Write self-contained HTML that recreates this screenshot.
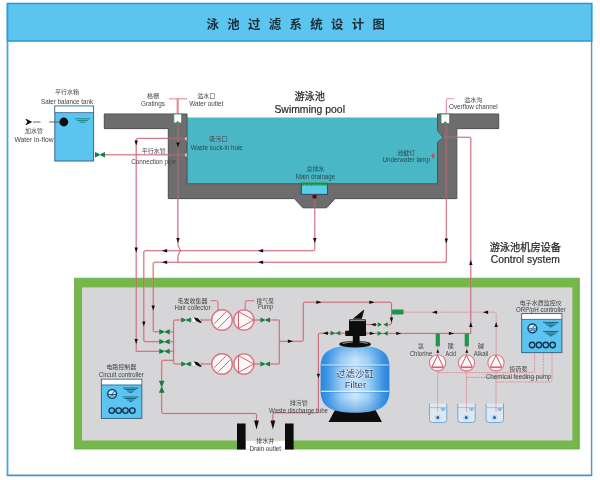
<!DOCTYPE html>
<html lang="zh-CN"><head><meta charset="utf-8"><title>泳池过滤系统设计图</title>
<style>html,body{margin:0;padding:0;background:#fefefe;}body{width:600px;height:480px;overflow:hidden;}svg{display:block;font-family:"Liberation Sans", "Noto Sans CJK SC", sans-serif;}</style></head><body>
<svg width="600" height="480" viewBox="0 0 600 480">
<defs>
<linearGradient id="tank" x1="0" y1="0" x2="1" y2="0"><stop offset="0" stop-color="#2a84de"/><stop offset="0.1" stop-color="#3f98e6"/><stop offset="0.3" stop-color="#9fd0f6"/><stop offset="0.5" stop-color="#d2eafb"/><stop offset="0.7" stop-color="#a2d2f6"/><stop offset="0.9" stop-color="#3f96e4"/><stop offset="1" stop-color="#2a80d8"/></linearGradient>
<linearGradient id="tankv" x1="0" y1="0" x2="0" y2="1"><stop offset="0" stop-color="#2f8ae0" stop-opacity="0.5"/><stop offset="0.2" stop-color="#2f8ae0" stop-opacity="0.06"/><stop offset="0.78" stop-color="#2f8ae0" stop-opacity="0.04"/><stop offset="1" stop-color="#2a80d8" stop-opacity="0.55"/></linearGradient>
<filter id="soft" x="-5%" y="-5%" width="110%" height="110%"><feGaussianBlur stdDeviation="0.32"/></filter>
<filter id="tb" x="-10%" y="-30%" width="120%" height="160%"><feGaussianBlur stdDeviation="0.42"/></filter>
</defs>
<rect width="600" height="480" fill="#fefefe"/>
<g filter="url(#soft)">
<rect x="7.5" y="3.5" width="584.2" height="471.9" fill="#fff"/>
<path d="M7.5 3.5 V475.4" stroke="#45a6dc" stroke-width="1.8" fill="none"/>
<path d="M6.8 475.3 H592.2" stroke="#4a93c2" stroke-width="1.7" fill="none"/>
<path d="M591.6 3.5 V475.4" stroke="#5893c0" stroke-width="1.4" fill="none"/>
<rect x="7.5" y="3.5" width="584.2" height="37.5" fill="#5cc5ef" stroke="#2f9bd8" stroke-width="1.6"/>
<text x="206.5" y="29.3" font-size="12.4" font-weight="bold" fill="#1d2b36" letter-spacing="8.35">泳池过滤系统设计图</text>
<rect x="74.4" y="278.2" width="504.9" height="170.8" fill="#76b74c" stroke="#68aa46" stroke-width="0.8"/>
<rect x="82" y="287.4" width="490.4" height="153.1" fill="#d6d6d8"/>
<path d="M104.3 114 H187 V183.8 H437.5 V142.5 L443.2 137.5 L437.5 130.5 V114 H498.7 V128.6 H456.8 V198.6 H335 L326.6 207.8 H303 L294.4 198.6 H168.3 V128.6 H104.3 Z" fill="#6d6d6d"/>
<path d="M187 117.5 H437.5 V130.5 L443.2 137.5 L437.5 142.5 V183.8 H187 Z" fill="#4ab7c5"/>
<path d="M104.3 114 H187 V183.8 H437.5 V142.5 L443.2 137.5 L437.5 130.5 V114 H498.7 V128.6 H456.8 V198.6 H335 L326.6 207.8 H303 L294.4 198.6 H168.3 V128.6 H104.3 Z" fill="none" stroke="#474747" stroke-width="1" stroke-linejoin="round"/>
<path d="M433.8 153 Q430.4 156 433.8 159" fill="none" stroke="#c63c4c" stroke-width="1"/>
<path d="M435 154.6 L432.6 156 L435 157.4" fill="none" stroke="#c63c4c" stroke-width="0.8"/>
<rect x="54.8" y="106" width="38.8" height="55" fill="#5cc5ef" stroke="#3d6486" stroke-width="1"/>
<rect x="55.3" y="106.5" width="37.8" height="6" fill="#fff"/>
<line x1="54.8" y1="112.6" x2="93.6" y2="112.6" stroke="#3d6486" stroke-width="0.8"/>
<circle cx="63.8" cy="122" r="4.4" fill="#0c0c0c"/>
<path d="M75 118.8 H90 M77 120.6 H88 M79.4 122.2 H85.6" stroke="#1a7f78" stroke-width="0.9" fill="none"/>
<path d="M26 119.2 L31.5 122 L26 124.8 L27.8 122 Z" fill="#111" stroke="#111" stroke-width="0.8" stroke-linejoin="round"/>
<path d="M33 122 L40.5 122" fill="none" stroke="#555" stroke-width="0.9" />
<path d="M49 122 L59.5 122" fill="none" stroke="#555" stroke-width="0.9" />
<path d="M169 98.8 L187.5 98.8" fill="none" stroke="#e28f9c" stroke-width="1.1" />
<path d="M177.7 98.8 L177.7 114" fill="none" stroke="#e28f9c" stroke-width="2.2" />
<path d="M177.9 123 L177.90 244.40 Q177.9 245.2 178.24 245.92 L180.06 249.78 Q180.4 250.5 180.06 251.22 L178.24 255.08 Q177.9 255.8 177.90 256.60 L177.9 262.3" fill="none" stroke="#efaab4" stroke-width="1.9" opacity="0.42" />
<path d="M177.9 123 L177.90 244.40 Q177.9 245.2 178.24 245.92 L180.06 249.78 Q180.4 250.5 180.06 251.22 L178.24 255.08 Q177.9 255.8 177.90 256.60 L177.9 262.3" fill="none" stroke="#bc4557" stroke-width="0.7" />
<path d="M136.2 351.3 L136.20 140.00 Q136.2 138.4 137.80 138.40 L186 138.4" fill="none" stroke="#efaab4" stroke-width="1.9" opacity="0.42" />
<path d="M136.2 351.3 L136.20 140.00 Q136.2 138.4 137.80 138.40 L186 138.4" fill="none" stroke="#bc4557" stroke-width="0.7" />
<path d="M105 154.8 L186 154.8" fill="none" stroke="#efaab4" stroke-width="1.9" opacity="0.42" />
<path d="M105 154.8 L186 154.8" fill="none" stroke="#bc4557" stroke-width="0.7" />
<path d="M446.3 114 L446.30 100.40 Q446.3 98.8 447.90 98.80 L454 98.8" fill="none" stroke="#e28f9c" stroke-width="1.1" />
<path d="M446.3 123.6 L446.3 262.3" fill="none" stroke="#efaab4" stroke-width="1.9" opacity="0.42" />
<path d="M446.3 123.6 L446.3 262.3" fill="none" stroke="#bc4557" stroke-width="0.7" />
<path d="M444 137.3 L469.20 137.30 Q470.8 137.3 470.80 138.90 L470.8 333.4" fill="none" stroke="#efaab4" stroke-width="1.9" opacity="0.42" />
<path d="M444 137.3 L469.20 137.30 Q470.8 137.3 470.80 138.90 L470.8 333.4" fill="none" stroke="#bc4557" stroke-width="0.7" />
<path d="M314.8 198.8 L314.80 249.10 Q314.8 250.7 313.20 250.70 L145.40 250.70 Q143.8 250.7 143.80 252.30 L143.80 340.10 Q143.8 341.7 145.40 341.70 L159.5 341.7" fill="none" stroke="#efaab4" stroke-width="1.9" opacity="0.42" />
<path d="M314.8 198.8 L314.80 249.10 Q314.8 250.7 313.20 250.70 L145.40 250.70 Q143.8 250.7 143.80 252.30 L143.80 340.10 Q143.8 341.7 145.40 341.70 L159.5 341.7" fill="none" stroke="#bc4557" stroke-width="0.7" />
<path d="M446.3 262.3 L154.80 262.30 Q153.2 262.3 153.20 263.90 L153.20 330.20 Q153.2 331.8 154.80 331.80 L159.5 331.8" fill="none" stroke="#efaab4" stroke-width="1.9" opacity="0.42" />
<path d="M446.3 262.3 L154.80 262.30 Q153.2 262.3 153.20 263.90 L153.20 330.20 Q153.2 331.8 154.80 331.80 L159.5 331.8" fill="none" stroke="#bc4557" stroke-width="0.7" />
<path d="M136.2 351.3 L159.5 351.3" fill="none" stroke="#efaab4" stroke-width="1.9" opacity="0.42" />
<path d="M136.2 351.3 L159.5 351.3" fill="none" stroke="#bc4557" stroke-width="0.7" />
<path d="M104.3 114 H187 V183.8 H437.5 V142.5 L443.2 137.5 L437.5 130.5 V114 H498.7 V128.6 H456.8 V198.6 H335 L326.6 207.8 H303 L294.4 198.6 H168.3 V128.6 H104.3 Z" fill="#6d6d6d" opacity="0.42"/>
<path d="M173.8 114 H181.6 V123 H179.2 L177.7 121.2 L176.2 123 H173.8 Z" fill="#fff" stroke="#2e8b57" stroke-width="0.8"/>
<path d="M441 114 H449.6 V123.6 H447 L445.3 121.6 L443.6 123.6 H441 Z" fill="#fff" stroke="#2e8b57" stroke-width="0.8"/>
<path d="M186.5 136.5 L184.8 138.8 L186.5 141 Z M186.5 152.8 L184.8 155 L186.5 157.2 Z" fill="#e8f4f4"/>
<rect x="301.3" y="183.6" width="26.2" height="10.8" fill="#5bcde8" stroke="#1f5a66" stroke-width="1.1"/>
<line x1="301.6" y1="184" x2="327.2" y2="184" stroke="#2a9238" stroke-width="2.8" stroke-dasharray="2.3 0.5"/>
<path d="M312.4 194.6 V197.4 Q312.4 198.8 314.6 198.8 Q316.8 198.8 316.8 197.4 V194.6 Z" fill="#301a1c" stroke="#a8404c" stroke-width="0.6"/>
<polygon points="134.5,140.4 137.9,140.4 136.2,145.6" fill="#111"/>
<polygon points="176.3,142.4 179.7,142.4 178,147.6" fill="#111"/>
<polygon points="134.5,247.4 137.9,247.4 136.2,252.6" fill="#111"/>
<polygon points="176.3,237.9 179.7,237.9 178,243.1" fill="#111"/>
<polygon points="313.1,237.9 316.5,237.9 314.8,243.1" fill="#111"/>
<polygon points="444.6,238.4 448,238.4 446.3,243.6" fill="#111"/>
<polygon points="469.1,265.1 472.5,265.1 470.8,259.9" fill="#111"/>
<polygon points="167.1,249 167.1,252.4 161.9,250.7" fill="#111"/>
<polygon points="167.1,260.6 167.1,264 161.9,262.3" fill="#111"/>
<polygon points="263.1,249 263.1,252.4 257.9,250.7" fill="#111"/>
<polygon points="263.1,260.6 263.1,264 257.9,262.3" fill="#111"/>
<polygon points="151.5,305.4 154.9,305.4 153.2,310.6" fill="#111"/>
<polygon points="142.1,321.4 145.5,321.4 143.8,326.6" fill="#111"/>
<polygon points="134.5,338.9 137.9,338.9 136.2,344.1" fill="#111"/>
<path d="M95 152.1 L100.9 154.8 L95 157.5 Z M105 152.1 L99.1 154.8 L105 157.5 Z" fill="#13803c"/>
<path d="M159.25 329.2 L165.4 331.8 L159.25 334.4 Z M169.75 329.2 L163.6 331.8 L169.75 334.4 Z" fill="#13803c"/>
<path d="M169.8 331.8 L173.6 331.8" fill="none" stroke="#efaab4" stroke-width="1.9" opacity="0.42" />
<path d="M169.8 331.8 L173.6 331.8" fill="none" stroke="#bc4557" stroke-width="0.7" />
<path d="M159.25 339.1 L165.4 341.7 L159.25 344.3 Z M169.75 339.1 L163.6 341.7 L169.75 344.3 Z" fill="#13803c"/>
<path d="M169.8 341.7 L173.6 341.7" fill="none" stroke="#efaab4" stroke-width="1.9" opacity="0.42" />
<path d="M169.8 341.7 L173.6 341.7" fill="none" stroke="#bc4557" stroke-width="0.7" />
<path d="M159.25 348.7 L165.4 351.3 L159.25 353.9 Z M169.75 348.7 L163.6 351.3 L169.75 353.9 Z" fill="#13803c"/>
<path d="M169.8 351.3 L173.6 351.3" fill="none" stroke="#efaab4" stroke-width="1.9" opacity="0.42" />
<path d="M169.8 351.3 L173.6 351.3" fill="none" stroke="#bc4557" stroke-width="0.7" />
<path d="M181.5 320 L175.20 320.00 Q173.6 320 173.60 321.60 L173.60 362.40 Q173.6 364 175.20 364.00 L181.5 364" fill="none" stroke="#efaab4" stroke-width="1.9" opacity="0.42" />
<path d="M181.5 320 L175.20 320.00 Q173.6 320 173.60 321.60 L173.60 362.40 Q173.6 364 175.20 364.00 L181.5 364" fill="none" stroke="#bc4557" stroke-width="0.7" />
<path d="M181.2 317.5 L186.9 320 L181.2 322.5 Z M190.8 317.5 L185.1 320 L190.8 322.5 Z" fill="#13803c"/>
<path d="M190.8 320 L193 320" fill="none" stroke="#efaab4" stroke-width="1.9" opacity="0.42" />
<path d="M190.8 320 L193 320" fill="none" stroke="#bc4557" stroke-width="0.7" />
<ellipse cx="194" cy="320" rx="2.3" ry="2.4" fill="#fff" stroke="#999" stroke-width="0.4"/>
<path d="M193.8 317.4 L197.8 318.3 L201.6 322.2 L200.4 322.9 L195.8 320.8 Z" fill="#0c0c0c"/>
<path d="M201.3 318.4 V322.6" stroke="#777" stroke-width="0.6"/>
<path d="M201 320 L211.7 320" fill="none" stroke="#efaab4" stroke-width="1.9" opacity="0.42" />
<path d="M201 320 L211.7 320" fill="none" stroke="#bc4557" stroke-width="0.7" />
<circle cx="222" cy="320" r="10.3" fill="#fdf8f8" stroke="#dc7482" stroke-width="1.4"/>
<path d="M214.1 323.8 L225.8 312.1 M218.2 327.9 L229.9 316.2" stroke="#d65f70" stroke-width="1" fill="none"/>
<circle cx="243.9" cy="320" r="10.1" fill="#fdf8f8" stroke="#dc7482" stroke-width="1.4"/>
<path d="M238.5 311.6 L253.7 320 L238.5 328.4 Z" fill="none" stroke="#d65f70" stroke-width="1"/>
<path d="M254 320 L260.5 320" fill="none" stroke="#efaab4" stroke-width="1.9" opacity="0.42" />
<path d="M254 320 L260.5 320" fill="none" stroke="#bc4557" stroke-width="0.7" />
<path d="M260.4 317.5 L266.1 320 L260.4 322.5 Z M270 317.5 L264.3 320 L270 322.5 Z" fill="#13803c"/>
<path d="M270 320 L279.3 320" fill="none" stroke="#efaab4" stroke-width="1.9" opacity="0.42" />
<path d="M270 320 L279.3 320" fill="none" stroke="#bc4557" stroke-width="0.7" />
<path d="M181.2 361.5 L186.9 364 L181.2 366.5 Z M190.8 361.5 L185.1 364 L190.8 366.5 Z" fill="#13803c"/>
<path d="M190.8 364 L193 364" fill="none" stroke="#efaab4" stroke-width="1.9" opacity="0.42" />
<path d="M190.8 364 L193 364" fill="none" stroke="#bc4557" stroke-width="0.7" />
<ellipse cx="194" cy="364" rx="2.3" ry="2.4" fill="#fff" stroke="#999" stroke-width="0.4"/>
<path d="M193.8 361.4 L197.8 362.3 L201.6 366.2 L200.4 366.9 L195.8 364.8 Z" fill="#0c0c0c"/>
<path d="M201.3 362.4 V366.6" stroke="#777" stroke-width="0.6"/>
<path d="M201 364 L211.7 364" fill="none" stroke="#efaab4" stroke-width="1.9" opacity="0.42" />
<path d="M201 364 L211.7 364" fill="none" stroke="#bc4557" stroke-width="0.7" />
<circle cx="222" cy="364" r="10.3" fill="#fdf8f8" stroke="#dc7482" stroke-width="1.4"/>
<path d="M214.1 367.8 L225.8 356.1 M218.2 371.9 L229.9 360.2" stroke="#d65f70" stroke-width="1" fill="none"/>
<circle cx="243.9" cy="364" r="10.1" fill="#fdf8f8" stroke="#dc7482" stroke-width="1.4"/>
<path d="M238.5 355.6 L253.7 364 L238.5 372.4 Z" fill="none" stroke="#d65f70" stroke-width="1"/>
<path d="M254 364 L260.5 364" fill="none" stroke="#efaab4" stroke-width="1.9" opacity="0.42" />
<path d="M254 364 L260.5 364" fill="none" stroke="#bc4557" stroke-width="0.7" />
<path d="M260.4 361.5 L266.1 364 L260.4 366.5 Z M270 361.5 L264.3 364 L270 366.5 Z" fill="#13803c"/>
<path d="M270 364 L279.3 364" fill="none" stroke="#efaab4" stroke-width="1.9" opacity="0.42" />
<path d="M270 364 L279.3 364" fill="none" stroke="#bc4557" stroke-width="0.7" />
<path d="M279.3 320 L279.3 364" fill="none" stroke="#efaab4" stroke-width="1.9" opacity="0.42" />
<path d="M279.3 320 L279.3 364" fill="none" stroke="#bc4557" stroke-width="0.7" />
<path d="M279.3 341.3 L301.70 341.30 Q303.3 341.3 303.30 339.70 L303.30 303.80 Q303.3 302.2 304.90 302.20 L389.90 302.20 Q391.5 302.2 391.50 303.80 L391.50 323.00 Q391.5 324.6 389.90 324.60 L387.5 324.6" fill="none" stroke="#efaab4" stroke-width="1.9" opacity="0.42" />
<path d="M279.3 341.3 L301.70 341.30 Q303.3 341.3 303.30 339.70 L303.30 303.80 Q303.3 302.2 304.90 302.20 L389.90 302.20 Q391.5 302.2 391.50 303.80 L391.50 323.00 Q391.5 324.6 389.90 324.60 L387.5 324.6" fill="none" stroke="#bc4557" stroke-width="0.7" />
<polygon points="287.9,339.6 287.9,343 293.1,341.3" fill="#111"/>
<polygon points="316.4,300.5 316.4,303.9 321.6,302.2" fill="#111"/>
<polygon points="369.4,300.5 369.4,303.9 374.6,302.2" fill="#111"/>
<polygon points="389.8,317.4 393.2,317.4 391.5,322.6" fill="#111"/>
<path d="M210.5 300.7 L216.40 300.70 Q218 300.7 218.00 302.30 L218 310.4" fill="none" stroke="#d65f70" stroke-width="0.9" />
<path d="M254.5 300.7 L246.80 300.70 Q245.2 300.7 245.20 302.30 L245.2 310" fill="none" stroke="#d65f70" stroke-width="0.9" />
<path d="M173.6 360.3 L163.30 360.30 Q161.7 360.3 161.70 361.90 L161.70 411.90 Q161.7 413.5 163.30 413.50 L254.90 413.50 Q256.5 413.5 256.50 415.10 L256.5 421" fill="none" stroke="#efaab4" stroke-width="1.9" opacity="0.42" />
<path d="M173.6 360.3 L163.30 360.30 Q161.7 360.3 161.70 361.90 L161.70 411.90 Q161.7 413.5 163.30 413.50 L254.90 413.50 Q256.5 413.5 256.50 415.10 L256.5 421" fill="none" stroke="#bc4557" stroke-width="0.7" />
<path d="M158.9 380.8 L161.7 387.7 L164.5 380.8 Z M158.9 392.8 L161.7 385.9 L164.5 392.8 Z" fill="#13803c"/>
<polygon points="254.1,420.6 258.9,420.6 256.5,429.6" fill="#111"/>
<path d="M345 333.2 L320.00 333.20 Q318.4 333.2 318.40 334.80 L318.40 411.20 Q318.4 412.8 316.80 412.80 L274.50 412.80 Q272.9 412.8 272.90 414.40 L272.9 421" fill="none" stroke="#efaab4" stroke-width="1.9" opacity="0.42" />
<path d="M345 333.2 L320.00 333.20 Q318.4 333.2 318.40 334.80 L318.40 411.20 Q318.4 412.8 316.80 412.80 L274.50 412.80 Q272.9 412.8 272.90 414.40 L272.9 421" fill="none" stroke="#bc4557" stroke-width="0.7" />
<polygon points="270.5,420.6 275.3,420.6 272.9,429.6" fill="#111"/>
<polygon points="316.8,373.7 320,373.7 318.4,378.3" fill="#111"/>
<polygon points="327.9,331.5 327.9,334.9 322.7,333.2" fill="#111"/>
<path d="M330.7 330.8 L335.4 333.2 L330.7 335.6 Z M340.3 330.8 L335.6 333.2 L340.3 335.6 Z" fill="#13803c"/>
<path d="M366 324.6 L377 324.6" fill="none" stroke="#efaab4" stroke-width="1.9" opacity="0.42" />
<path d="M366 324.6 L377 324.6" fill="none" stroke="#bc4557" stroke-width="0.7" />
<polygon points="375.7,322.9 375.7,326.3 370.5,324.6" fill="#111"/>
<path d="M377.7 322.15 L381.95 324.6 L377.7 327.05 Z M387.7 322.15 L383.45 324.6 L387.7 327.05 Z" fill="#13803c"/>
<path d="M366 333.4 L470.8 333.4" fill="none" stroke="#efaab4" stroke-width="1.9" opacity="0.42" />
<path d="M366 333.4 L470.8 333.4" fill="none" stroke="#bc4557" stroke-width="0.7" />
<polygon points="369.7,331.7 369.7,335.1 374.9,333.4" fill="#111"/>
<path d="M377.7 330.95 L381.95 333.4 L377.7 335.85 Z M387.7 330.95 L383.45 333.4 L387.7 335.85 Z" fill="#13803c"/>
<polygon points="396.2,331.7 396.2,335.1 401.4,333.4" fill="#111"/>
<polygon points="448.9,331.7 448.9,335.1 454.1,333.4" fill="#111"/>
<polygon points="469.1,327.1 472.5,327.1 470.8,321.9" fill="#111"/>
<rect x="392" y="309.4" width="11.6" height="5.2" rx="0.8" fill="#1c9648"/>
<path d="M403.6 312.2 L494.60 312.20 Q496.2 312.2 496.20 313.80 L496.2 354.6" fill="none" stroke="#de8493" stroke-width="0.8" stroke-dasharray="2 0.6"/>
<polygon points="437.1,310.5 437.1,313.9 431.9,312.2" fill="#111"/>
<polygon points="488.1,310.5 488.1,313.9 482.9,312.2" fill="#111"/>
<polygon points="494.5,327.1 497.9,327.1 496.2,321.9" fill="#111"/>
<rect x="435.7" y="333.6" width="4.2" height="12.8" fill="#1c9648"/>
<path d="M437.8 346.4 L437.8 354.8" fill="none" stroke="#e28f9c" stroke-width="1" />
<polygon points="436.3,352.8 439.3,352.8 437.8,349.2" fill="#111"/>
<rect x="464.7" y="333.6" width="4.2" height="12.8" fill="#1c9648"/>
<path d="M466.8 346.4 L466.8 354.8" fill="none" stroke="#e28f9c" stroke-width="1" />
<polygon points="465.3,352.8 468.3,352.8 466.8,349.2" fill="#111"/>
<circle cx="437.6" cy="362.8" r="8.1" fill="#fdf8f8" stroke="#dc7482" stroke-width="1.1"/>
<path d="M431.8 367 L437.6 355.2 L443.4 367 Z" fill="none" stroke="#bc4557" stroke-width="0.9"/>
<path d="M432.1 367.4 L443.1 367.4" fill="none" stroke="#efaab4" stroke-width="1.9" opacity="0.42" />
<path d="M432.1 367.4 L443.1 367.4" fill="none" stroke="#bc4557" stroke-width="0.7" />
<circle cx="466.5" cy="362.8" r="8.1" fill="#fdf8f8" stroke="#dc7482" stroke-width="1.1"/>
<path d="M460.7 367 L466.5 355.2 L472.3 367 Z" fill="none" stroke="#bc4557" stroke-width="0.9"/>
<path d="M461 367.4 L472 367.4" fill="none" stroke="#efaab4" stroke-width="1.9" opacity="0.42" />
<path d="M461 367.4 L472 367.4" fill="none" stroke="#bc4557" stroke-width="0.7" />
<circle cx="496" cy="362.8" r="8.1" fill="#fdf8f8" stroke="#dc7482" stroke-width="1.1"/>
<path d="M490.2 367 L496 355.2 L501.8 367 Z" fill="none" stroke="#bc4557" stroke-width="0.9"/>
<path d="M490.5 367.4 L501.5 367.4" fill="none" stroke="#efaab4" stroke-width="1.9" opacity="0.42" />
<path d="M490.5 367.4 L501.5 367.4" fill="none" stroke="#bc4557" stroke-width="0.7" />
<path d="M437.6 372.6 L533.00 372.60 Q534.6 372.6 534.60 371.00 L534.6 352.6" fill="none" stroke="#e28f9c" stroke-width="0.9" stroke-dasharray="2.2 0.7"/>
<path d="M466.5 377.4 L541.60 377.40 Q543.2 377.4 543.20 375.80 L543.2 352.6" fill="none" stroke="#e28f9c" stroke-width="0.9" stroke-dasharray="2.2 0.7"/>
<path d="M496 382 L550.40 382.00 Q552 382 552.00 380.40 L552 352.6" fill="none" stroke="#e28f9c" stroke-width="0.9" stroke-dasharray="2.2 0.7"/>
<path d="M429.4 403.6 V419.5 Q429.4 422.5 432.4 422.5 H443.8 Q446.8 422.5 446.8 419.5 V403.6" fill="#dfe8f0" stroke="#6ea5d6" stroke-width="0.95"/>
<path d="M429.9 407.6 H446.3" stroke="#7fb2dc" stroke-width="0.7"/>
<path d="M437.6 370.8 L437.6 412.2" fill="none" stroke="#de8493" stroke-width="0.8" stroke-dasharray="2 0.6"/>
<path d="M440.8 408.9 H445.4 M441.8 410.2 H444.4" stroke="#2c7fc4" stroke-width="0.7"/>
<circle cx="437.8" cy="417.6" r="1.5" fill="#1b5fb4"/>
<circle cx="437.8" cy="417.6" r="2.6" fill="none" stroke="#8cc4ee" stroke-width="0.8" opacity="0.7"/>
<path d="M457.8 403.6 V419.5 Q457.8 422.5 460.8 422.5 H472.2 Q475.2 422.5 475.2 419.5 V403.6" fill="#dfe8f0" stroke="#6ea5d6" stroke-width="0.95"/>
<path d="M458.3 407.6 H474.7" stroke="#7fb2dc" stroke-width="0.7"/>
<path d="M466.5 370.8 L466.5 412.2" fill="none" stroke="#de8493" stroke-width="0.8" stroke-dasharray="2 0.6"/>
<path d="M469.2 408.9 H473.8 M470.2 410.2 H472.8" stroke="#2c7fc4" stroke-width="0.7"/>
<circle cx="466.2" cy="417.6" r="1.5" fill="#1b5fb4"/>
<circle cx="466.2" cy="417.6" r="2.6" fill="none" stroke="#8cc4ee" stroke-width="0.8" opacity="0.7"/>
<path d="M486.1 403.6 V419.5 Q486.1 422.5 489.1 422.5 H500.5 Q503.5 422.5 503.5 419.5 V403.6" fill="#dfe8f0" stroke="#6ea5d6" stroke-width="0.95"/>
<path d="M486.6 407.6 H503" stroke="#7fb2dc" stroke-width="0.7"/>
<path d="M496 370.8 L496 412.2" fill="none" stroke="#de8493" stroke-width="0.8" stroke-dasharray="2 0.6"/>
<path d="M497.5 408.9 H502.1 M498.5 410.2 H501.1" stroke="#2c7fc4" stroke-width="0.7"/>
<circle cx="494.5" cy="417.6" r="1.5" fill="#1b5fb4"/>
<circle cx="494.5" cy="417.6" r="2.6" fill="none" stroke="#8cc4ee" stroke-width="0.8" opacity="0.7"/>
<path d="M335.5 409 H375 L382 422 H328.5 Z" fill="#0d0d0d"/>
<path d="M320.6 367 C320.6 352 330 345.5 355 345.5 C380 345.5 389.4 352 389.4 367 V391 C389.4 406 380 412.6 355 412.6 C330 412.6 320.6 406 320.6 391 Z" fill="url(#tank)"/>
<path d="M320.6 367 C320.6 352 330 345.5 355 345.5 C380 345.5 389.4 352 389.4 367 V391 C389.4 406 380 412.6 355 412.6 C330 412.6 320.6 406 320.6 391 Z" fill="url(#tankv)"/>
<path d="M321.2 365 H388.8 M321.2 391.3 H388.8" stroke="#e3f2fc" stroke-width="1.2" opacity="0.9"/>
<path d="M321.2 366.2 H388.8 M321.2 392.5 H388.8" stroke="#2f7fd0" stroke-width="0.8" opacity="0.45"/>
<ellipse cx="355.1" cy="344.2" rx="15.8" ry="3.3" fill="#0d0d0d"/>
<path d="M342.5 343.4 Q355 340.6 367.7 343.4" fill="none" stroke="#a0a0a0" stroke-width="1.2" opacity="0.85"/>
<rect x="352.8" y="334" width="6.8" height="9" fill="#0d0d0d"/>
<rect x="345.2" y="330.8" width="21" height="5.2" rx="0.8" fill="#0d0d0d"/>
<rect x="349" y="319.2" width="17" height="16.6" rx="1.4" fill="#0d0d0d"/>
<path d="M349.8 320.4 H365.2" stroke="#a8a8a8" stroke-width="1.3" opacity="0.85"/>
<path d="M353.4 318.6 L363.9 310 L361.6 318.6 Z" fill="#0d0d0d" stroke="#0d0d0d" stroke-width="0.6" stroke-linejoin="round"/>
<text x="355" y="377" font-size="9.5" text-anchor="middle" fill="#2c456c" stroke="#eef7ff" stroke-opacity="0.75" stroke-width="0.9" paint-order="stroke" stroke-linejoin="round" filter="url(#tb)">过滤沙缸</text>
<text x="355.4" y="387.6" font-size="9.7" text-anchor="middle" fill="#2c3f5c" stroke="#eef7ff" stroke-opacity="0.75" stroke-width="0.9" paint-order="stroke" stroke-linejoin="round" filter="url(#tb)">Filter</text>
<rect x="245.5" y="440.5" width="39.5" height="9" fill="#fefefe"/>
<rect x="237" y="423.5" width="8.6" height="26" fill="#0d0d0d"/>
<rect x="285" y="423.5" width="8.6" height="26" fill="#0d0d0d"/>
<rect x="101.4" y="379.2" width="40.4" height="39.2" fill="#5cc5ef" stroke="#3d6486" stroke-width="1"/>
<rect x="101.9" y="379.7" width="39.4" height="5" fill="#fff"/>
<line x1="101.4" y1="385" x2="141.8" y2="385" stroke="#3d6486" stroke-width="0.8"/>
<circle cx="112.1" cy="393.9" r="4.4" fill="#cfeaf8" stroke="#0f4470" stroke-width="1.45"/>
<path d="M108.1 394.5 H116.1 M112.1 393.9 L114.7 390.9 M109.5 396.5 Q112.1 394.5 114.7 396.5" stroke="#14466c" stroke-width="0.9" fill="none"/>
<path d="M122.8 388 H138.4 M124.8 389.5 H136.4 M127 391 H134.2 M129 392.4 H132.2" stroke="#17607c" stroke-width="0.95" fill="none"/>
<path d="M122.8 397 H138.4 M124.8 398.5 H136.4 M127 400 H134.2 M129 401.4 H132.2" stroke="#17607c" stroke-width="0.95" fill="none"/>
<circle cx="111.8" cy="410.6" r="2.75" fill="#62bde4" stroke="#0d3350" stroke-width="1.35"/>
<circle cx="118.65" cy="410.6" r="2.75" fill="#62bde4" stroke="#0d3350" stroke-width="1.35"/>
<circle cx="125.5" cy="410.6" r="2.75" fill="#62bde4" stroke="#0d3350" stroke-width="1.35"/>
<circle cx="132.35" cy="410.6" r="2.75" fill="#62bde4" stroke="#0d3350" stroke-width="1.35"/>
<rect x="521.7" y="313.6" width="40.2" height="39" fill="#5cc5ef" stroke="#3d6486" stroke-width="1"/>
<rect x="522.2" y="314.1" width="39.2" height="5" fill="#fff"/>
<line x1="521.7" y1="319.4" x2="561.9" y2="319.4" stroke="#3d6486" stroke-width="0.8"/>
<circle cx="532.4" cy="328.3" r="4.4" fill="#cfeaf8" stroke="#0f4470" stroke-width="1.45"/>
<path d="M528.4 328.9 H536.4 M532.4 328.3 L535 325.3 M529.8 330.9 Q532.4 328.9 535 330.9" stroke="#14466c" stroke-width="0.9" fill="none"/>
<path d="M543.1 322.4 H558.7 M545.1 323.9 H556.7 M547.3 325.4 H554.5 M549.3 326.8 H552.5" stroke="#17607c" stroke-width="0.95" fill="none"/>
<path d="M543.1 331.4 H558.7 M545.1 332.9 H556.7 M547.3 334.4 H554.5 M549.3 335.8 H552.5" stroke="#17607c" stroke-width="0.95" fill="none"/>
<circle cx="532.1" cy="345" r="2.75" fill="#62bde4" stroke="#0d3350" stroke-width="1.35"/>
<circle cx="538.95" cy="345" r="2.75" fill="#62bde4" stroke="#0d3350" stroke-width="1.35"/>
<circle cx="545.8" cy="345" r="2.75" fill="#62bde4" stroke="#0d3350" stroke-width="1.35"/>
<circle cx="552.65" cy="345" r="2.75" fill="#62bde4" stroke="#0d3350" stroke-width="1.35"/>
<text x="309.7" y="99.6" font-size="10.2" text-anchor="middle" fill="#2a2a2a" font-weight="normal" filter="url(#tb)" stroke="#2a2a2a" stroke-width="0.25">游泳池</text>
<text x="309.7" y="112.6" font-size="10.4" text-anchor="middle" fill="#2a2a2a" font-weight="normal" textLength="70.5" lengthAdjust="spacingAndGlyphs" filter="url(#tb)" stroke="#2a2a2a" stroke-width="0.2">Swimming pool</text>
<text x="525.3" y="251" font-size="10.2" text-anchor="middle" fill="#2a2a2a" font-weight="normal" filter="url(#tb)" stroke="#2a2a2a" stroke-width="0.25">游泳池机房设备</text>
<text x="525.3" y="262.6" font-size="10.4" text-anchor="middle" fill="#2a2a2a" font-weight="normal" textLength="69" lengthAdjust="spacingAndGlyphs" filter="url(#tb)" stroke="#2a2a2a" stroke-width="0.2">Control system</text>
<text x="67" y="94.16" font-size="6" text-anchor="middle" fill="#444" font-weight="normal" filter="url(#tb)" >平行水箱</text>
<text x="67" y="103.52" font-size="7" text-anchor="middle" fill="#444" font-weight="normal" textLength="52" lengthAdjust="spacingAndGlyphs" filter="url(#tb)" >Sater balance tank</text>
<text x="34" y="133.16" font-size="6" text-anchor="middle" fill="#444" font-weight="normal" filter="url(#tb)" >加水管</text>
<text x="34" y="141.72" font-size="7" text-anchor="middle" fill="#444" font-weight="normal" textLength="39" lengthAdjust="spacingAndGlyphs" filter="url(#tb)" >Water in-flow</text>
<text x="153" y="98.16" font-size="6" text-anchor="middle" fill="#444" font-weight="normal" filter="url(#tb)" >格栅</text>
<text x="153" y="106.32" font-size="7" text-anchor="middle" fill="#444" font-weight="normal" textLength="24" lengthAdjust="spacingAndGlyphs" filter="url(#tb)" >Gratings</text>
<text x="206.3" y="98.16" font-size="6" text-anchor="middle" fill="#444" font-weight="normal" filter="url(#tb)" >溢水口</text>
<text x="206.3" y="106.32" font-size="7" text-anchor="middle" fill="#444" font-weight="normal" textLength="34" lengthAdjust="spacingAndGlyphs" filter="url(#tb)" >Water outlet</text>
<text x="218.3" y="141.16" font-size="6" text-anchor="middle" fill="#444" font-weight="normal" filter="url(#tb)" >吸污口</text>
<text x="190.8" y="149.5" font-size="7" text-anchor="start" fill="#2a4a52" font-weight="normal" textLength="52" lengthAdjust="spacingAndGlyphs" filter="url(#tb)" >Waste suck-in hole</text>
<text x="153.8" y="153.36" font-size="6" text-anchor="middle" fill="#444" font-weight="normal" filter="url(#tb)" >平行水管</text>
<text x="153.8" y="163.92" font-size="7" text-anchor="middle" fill="#444" font-weight="normal" textLength="45" lengthAdjust="spacingAndGlyphs" filter="url(#tb)" >Connection pipe</text>
<text x="315.5" y="170.96" font-size="6" text-anchor="middle" fill="#2a4a52" font-weight="normal" filter="url(#tb)" >总排水</text>
<text x="315.5" y="178.52" font-size="7" text-anchor="middle" fill="#2a4a52" font-weight="normal" textLength="39.6" lengthAdjust="spacingAndGlyphs" filter="url(#tb)" >Main drainage</text>
<text x="406.2" y="154.86" font-size="6" text-anchor="middle" fill="#2a4a52" font-weight="normal" filter="url(#tb)" >池壁灯</text>
<text x="406.2" y="162.32" font-size="7" text-anchor="middle" fill="#2a4a52" font-weight="normal" textLength="47.5" lengthAdjust="spacingAndGlyphs" filter="url(#tb)" >Underwater lamp</text>
<text x="473.3" y="101.56" font-size="6" text-anchor="middle" fill="#444" font-weight="normal" filter="url(#tb)" >溢水沟</text>
<text x="473.3" y="109.12" font-size="7" text-anchor="middle" fill="#444" font-weight="normal" textLength="48.6" lengthAdjust="spacingAndGlyphs" filter="url(#tb)" >Overflow channel</text>
<text x="192.6" y="302.86" font-size="6" text-anchor="middle" fill="#444" font-weight="normal" filter="url(#tb)" >毛发收集器</text>
<text x="192.6" y="309.82" font-size="7" text-anchor="middle" fill="#444" font-weight="normal" textLength="36" lengthAdjust="spacingAndGlyphs" filter="url(#tb)" >Hair collector</text>
<text x="256.6" y="302.8" font-size="5.8" text-anchor="start" fill="#444" font-weight="normal" filter="url(#tb)" >排气泵</text>
<text x="258" y="309.4" font-size="7" text-anchor="start" fill="#444" font-weight="normal" textLength="15.2" lengthAdjust="spacingAndGlyphs" filter="url(#tb)" >Pump</text>
<text x="121.3" y="368.86" font-size="6" text-anchor="middle" fill="#444" font-weight="normal" filter="url(#tb)" >电路控制器</text>
<text x="121.3" y="377.12" font-size="7" text-anchor="middle" fill="#444" font-weight="normal" textLength="45" lengthAdjust="spacingAndGlyphs" filter="url(#tb)" >Circuit controller</text>
<text x="540.8" y="304.86" font-size="6" text-anchor="middle" fill="#444" font-weight="normal" filter="url(#tb)" >电子水质监控仪</text>
<text x="540.8" y="312.12" font-size="7" text-anchor="middle" fill="#444" font-weight="normal" textLength="49.6" lengthAdjust="spacingAndGlyphs" filter="url(#tb)" >ORP/pH controller</text>
<text x="421" y="347.76" font-size="6" text-anchor="middle" fill="#444" font-weight="normal" filter="url(#tb)" >氯</text>
<text x="421" y="355.52" font-size="7" text-anchor="middle" fill="#444" font-weight="normal" textLength="22.5" lengthAdjust="spacingAndGlyphs" filter="url(#tb)" >Chlorine</text>
<text x="450.8" y="347.76" font-size="6" text-anchor="middle" fill="#444" font-weight="normal" filter="url(#tb)" >酸</text>
<text x="450.8" y="355.52" font-size="7" text-anchor="middle" fill="#444" font-weight="normal" textLength="10.6" lengthAdjust="spacingAndGlyphs" filter="url(#tb)" >Acid</text>
<text x="481" y="347.76" font-size="6" text-anchor="middle" fill="#444" font-weight="normal" filter="url(#tb)" >碱</text>
<text x="481" y="355.52" font-size="7" text-anchor="middle" fill="#444" font-weight="normal" textLength="14.4" lengthAdjust="spacingAndGlyphs" filter="url(#tb)" >Alkali</text>
<text x="518.6" y="370.76" font-size="6" text-anchor="middle" fill="#444" font-weight="normal" filter="url(#tb)" >投药泵</text>
<text x="518.6" y="378.52" font-size="7" text-anchor="middle" fill="#444" font-weight="normal" textLength="65.6" lengthAdjust="spacingAndGlyphs" filter="url(#tb)" >Chemical feeding pump</text>
<text x="298.8" y="404.66" font-size="6" text-anchor="middle" fill="#444" font-weight="normal" filter="url(#tb)" >排污管</text>
<text x="269" y="412.5" font-size="7" text-anchor="start" fill="#444" font-weight="normal" textLength="59" lengthAdjust="spacingAndGlyphs" filter="url(#tb)" >Waste discharge tube</text>
<text x="265.2" y="442.66" font-size="6" text-anchor="middle" fill="#444" font-weight="normal" filter="url(#tb)" >排水井</text>
<text x="265.2" y="450.82" font-size="7" text-anchor="middle" fill="#444" font-weight="normal" textLength="31.5" lengthAdjust="spacingAndGlyphs" filter="url(#tb)" >Drain outlet</text>
</g>
</svg></body></html>
